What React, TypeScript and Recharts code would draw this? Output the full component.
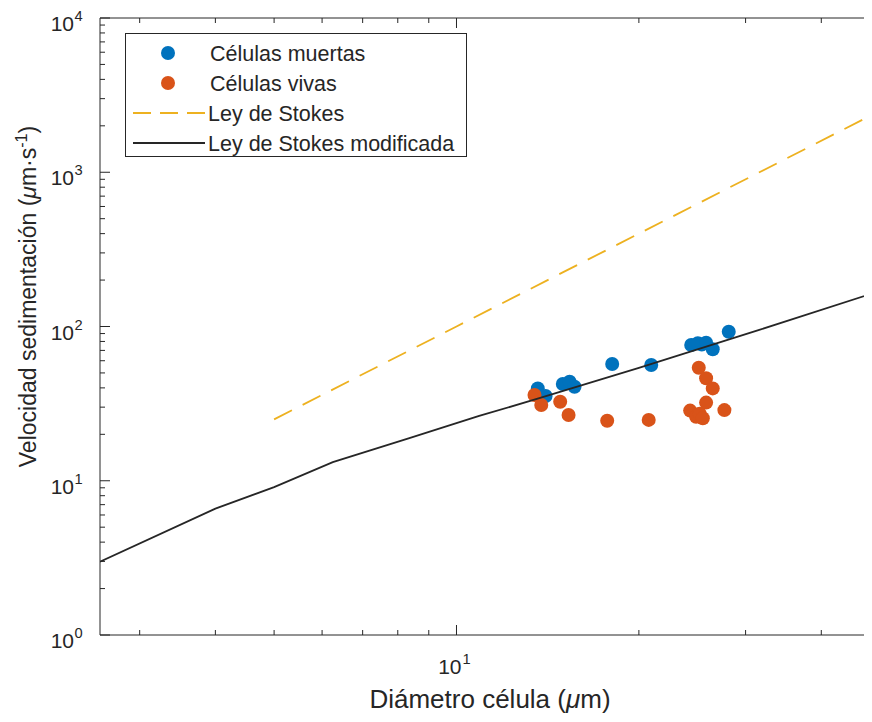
import React from 'react';
import { ScatterChart, Scatter, XAxis, YAxis, Legend, ReferenceLine } from 'recharts';

// Células muertas (diámetro µm, velocidad µm/s)
const muertasD = [13.62, 14.03, 14.98, 15.37, 15.66, 18.07, 20.96, 24.4, 25.02, 25.4, 25.82, 26.48, 28.14];
const muertasV = [39.7, 35.4, 42.4, 43.9, 40.7, 57.1, 56.3, 75.9, 77.8, 76.5, 78.5, 71.2, 92.5];
// Células vivas
const vivasD = [13.45, 13.8, 14.83, 15.31, 17.73, 20.76, 25.11, 25.82, 26.48, 25.82, 24.3, 24.86, 25.2, 25.5, 27.68];
const vivasV = [36.0, 31.0, 32.5, 26.7, 24.5, 24.8, 54.0, 46.2, 39.7, 32.1, 28.5, 26.0, 27.2, 25.4, 28.7];
// Ley de Stokes
const stokesD = [5, 10, 20, 50];
const stokesV = [25, 100, 400, 2500];
// Ley de Stokes modificada
const modD = [2.58, 4.0, 5.0, 6.25, 8.36, 10.9, 13.7, 20, 31.6, 50];
const modV = [2.99, 6.6, 9.1, 13.2, 18.9, 26.3, 34.3, 54, 95, 170];

const xDomain = [2.58, 50];
const yDomain = [1, 10000];
const xTicks = [3, 4, 5, 6, 7, 8, 9, 10, 20, 30, 40];
const yTicks = [
  1, 2, 3, 4, 5, 6, 7, 8, 9,
  10, 20, 30, 40, 50, 60, 70, 80, 90,
  100, 200, 300, 400, 500, 600, 700, 800, 900,
  1000, 2000, 3000, 4000, 5000, 6000, 7000, 8000, 9000, 10000,
];
const xMajor = [10];
const yMajor = [1, 10, 100, 1000, 10000];

const legendLabels = ['Células muertas', 'Células vivas', 'Ley de Stokes', 'Ley de Stokes modificada'];

const C_BLUE = '#0072BD';
const C_ORANGE = '#D95319';
const C_YELLOW = '#EDB120';
const C_LINE = '#262626';
const C_AX = '#262626';
const FONT = '"Liberation Sans", Arial, Helvetica, sans-serif';
const TICK_FS = 21;
const XLABEL_FS = 26;
const YLABEL_FS = 23;
const LEGEND_FS = 21.5;

const zip = (xs: number[], ys: number[]) => xs.map((d, i) => ({ d, v: ys[i] }));
const muertas = zip(muertasD, muertasV);
const vivas = zip(vivasD, vivasV);
const stokes = zip(stokesD, stokesV);
const mod = zip(modD, modV);

const exp10 = (v: number) => Math.round(Math.log10(v));

const BottomTick = (p: any) => {
  const { x, y, payload } = p;
  const major = xMajor.includes(payload.value);
  const len = major ? 10 : 5;
  return (
    <g>
      <line x1={x} x2={x} y1={y} y2={y - len} stroke={C_AX} strokeWidth={1} />
      {major && (
        <g fontFamily={FONT} fill={C_AX}>
          <text x={x + 5} y={y + 39} textAnchor="end" fontSize={TICK_FS}>10</text>
          <text x={x + 6} y={y + 29} textAnchor="start" fontSize={TICK_FS * 0.7}>{exp10(payload.value)}</text>
        </g>
      )}
    </g>
  );
};

const topTickShape = (major: boolean) => (p: any) => {
  const top = Math.min(p.y1, p.y2);
  return <line x1={p.x1} x2={p.x1} y1={top} y2={top + (major ? 10 : 5)} stroke={C_AX} strokeWidth={1} />;
};

const LeftTick = (p: any) => {
  const { x, y, payload } = p;
  const major = yMajor.includes(payload.value);
  return (
    <g>
      <line x1={x} x2={x + (major ? 10 : 5)} y1={y} y2={y} stroke={C_AX} strokeWidth={1} />
      {major && (
        <g fontFamily={FONT} fill={C_AX}>
          <text x={x - 26} y={y + 13} textAnchor="end" fontSize={TICK_FS}>10</text>
          <text x={x - 25.5} y={y + 3} textAnchor="start" fontSize={TICK_FS * 0.7}>{exp10(payload.value)}</text>
        </g>
      )}
    </g>
  );
};

const XLabel = (p: any) => {
  const vb = p.viewBox;
  return (
    <text x={vb.x + vb.width / 2} y={vb.y + 73} textAnchor="middle" fontFamily={FONT} fontSize={XLABEL_FS} fill={C_AX}>
      Diámetro célula (<tspan fontStyle="italic">μ</tspan>m)
    </text>
  );
};

const YLabel = (p: any) => {
  const vb = p.viewBox;
  const cx = vb.x + 28;
  const cy = vb.y + vb.height / 2 - 30;
  return (
    <text x={cx} y={cy} transform={`rotate(-90, ${cx}, ${cy})`} textAnchor="middle" fontFamily={FONT} fontSize={YLABEL_FS} fill={C_AX}>
      Velocidad sedimentación (<tspan fontStyle="italic">μ</tspan>m·s
      <tspan dy={-9} fontSize={YLABEL_FS * 0.7}>-1</tspan>
      <tspan dy={9}>)</tspan>
    </text>
  );
};

const Dot = (color: string) => (p: any) => <circle cx={p.cx} cy={p.cy} r={7} fill={color} />;
const Empty = () => <g />;

const renderLegend = () => {
  const rows = [20, 50, 80, 110];
  return (
    <div style={{ width: 342, height: 124, border: `1px solid ${C_AX}`, background: '#fff', boxSizing: 'border-box' }}>
      <svg width={340} height={122} style={{ display: 'block' }}>
        <circle cx={42} cy={rows[0] - 1} r={7} fill={C_BLUE} />
        <circle cx={42} cy={rows[1] - 1} r={7} fill={C_ORANGE} />
        <line x1={7} x2={79} y1={rows[2] - 1} y2={rows[2] - 1} stroke={C_YELLOW} strokeWidth={1.8} strokeDasharray="18 9" />
        <line x1={7} x2={79} y1={rows[3] - 1} y2={rows[3] - 1} stroke={C_LINE} strokeWidth={1.8} />
        {legendLabels.map((t, i) => (
          <text key={t} x={i < 2 ? 84 : 82} y={rows[i] + 6.5} fontFamily={FONT} fontSize={LEGEND_FS} fill={C_AX}>{t}</text>
        ))}
      </svg>
    </div>
  );
};

export default function App() {
  return (
    <div style={{ width: 864, height: 706, overflow: 'hidden', background: '#fff' }}>
      <ScatterChart width={880} height={706} margin={{ top: 10, right: 8, bottom: 0, left: 0 }}>
        <XAxis
          dataKey="d"
          type="number"
          scale="log"
          domain={xDomain}
          allowDataOverflow
          ticks={xTicks}
          interval={0}
          tickSize={0}
          tickMargin={0}
          tick={BottomTick}
          height={79}
          axisLine={{ stroke: C_AX, strokeWidth: 1 }}
          label={XLabel}
        />
        <YAxis
          dataKey="v"
          type="number"
          scale="log"
          domain={yDomain}
          allowDataOverflow
          ticks={yTicks}
          interval={0}
          tickSize={0}
          tickMargin={0}
          tick={LeftTick}
          width={92}
          axisLine={{ stroke: C_AX, strokeWidth: 1 }}
          label={YLabel}
        />
        <ReferenceLine y={yDomain[1]} stroke={C_AX} strokeWidth={1} ifOverflow="visible" />
        <ReferenceLine x={xDomain[1]} stroke={C_AX} strokeWidth={1} ifOverflow="visible" />
        {xTicks.map((t) => (
          <ReferenceLine key={`tt${t}`} x={t} ifOverflow="visible" shape={topTickShape(xMajor.includes(t))} />
        ))}
        <Legend layout="vertical" align="center" verticalAlign="middle" wrapperStyle={{ left: 117, top: 25, width: 342, height: 124 }} content={renderLegend} />
        <Scatter name={legendLabels[0]} data={muertas} shape={Dot(C_BLUE)} isAnimationActive={false} />
        <Scatter name={legendLabels[1]} data={vivas} shape={Dot(C_ORANGE)} isAnimationActive={false} />
        <Scatter
          name={legendLabels[2]}
          data={stokes}
          shape={Empty}
          line={{ stroke: C_YELLOW, strokeWidth: 1.8, strokeDasharray: '20 12' }}
          isAnimationActive={false}
        />
        <Scatter
          name={legendLabels[3]}
          data={mod}
          shape={Empty}
          line={{ stroke: C_LINE, strokeWidth: 1.8 }}
          isAnimationActive={false}
        />
      </ScatterChart>
    </div>
  );
}
